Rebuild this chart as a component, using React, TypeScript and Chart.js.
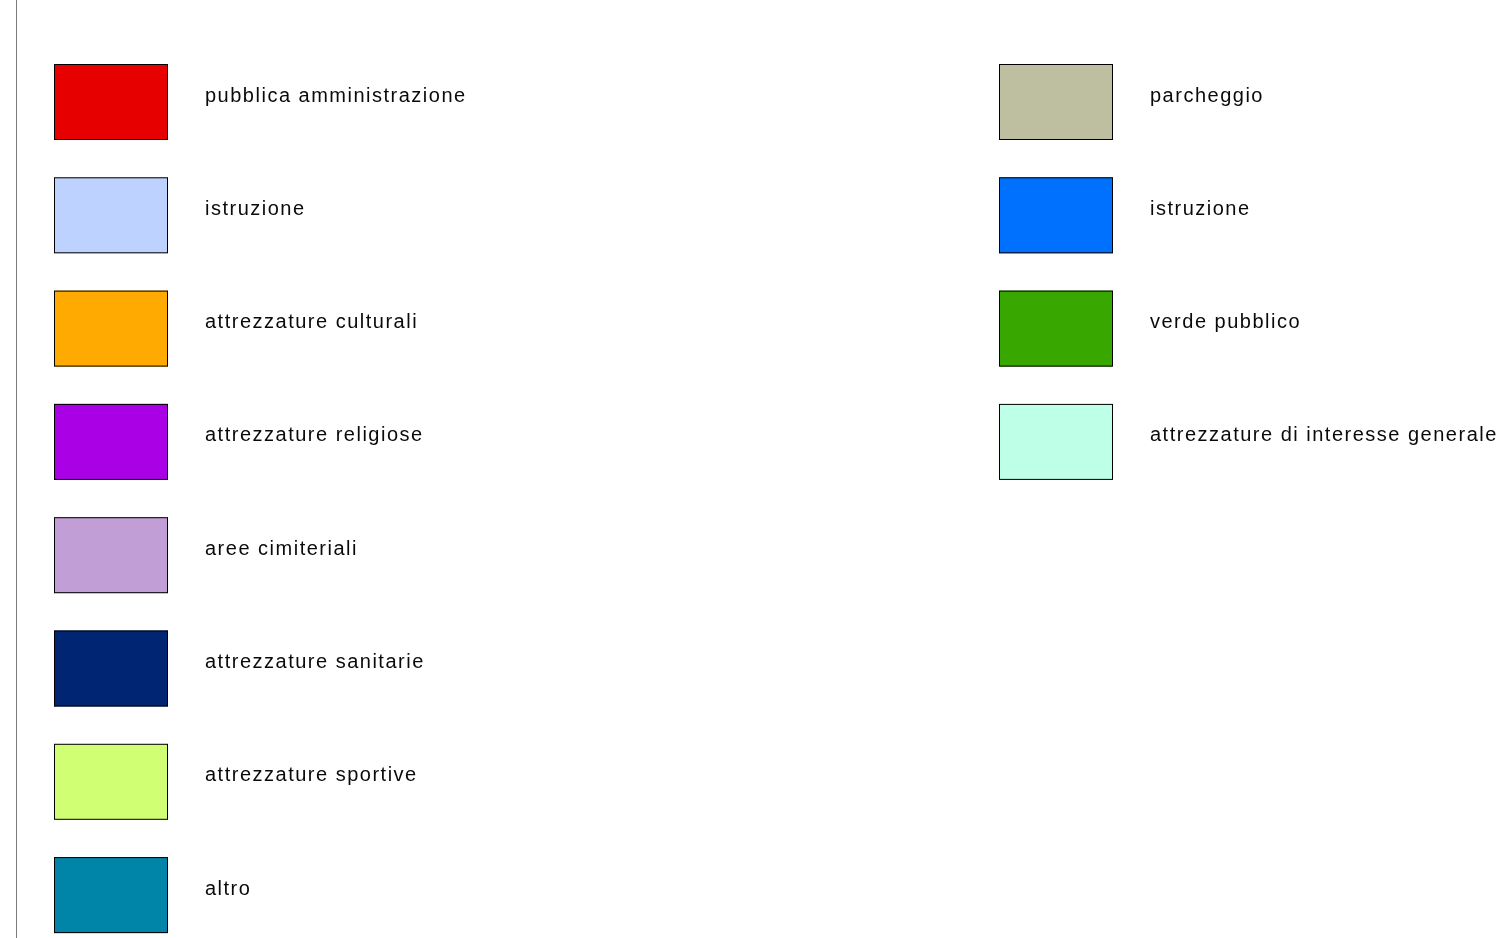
import React, { useEffect, useRef } from "react";
import { Chart, registerables } from "chart.js";

Chart.register(...registerables);

const categories: string[] = [
  "pubblica amministrazione",
  "istruzione",
  "attrezzature culturali",
  "attrezzature religiose",
  "aree cimiteriali",
  "attrezzature sanitarie",
  "attrezzature sportive",
  "altro",
  "parcheggio",
  "istruzione",
  "verde pubblico",
  "attrezzature di interesse generale",
];

const colors: string[] = [
  "#E60000",
  "#BED2FF",
  "#FFAA00",
  "#A900E6",
  "#C29ED7",
  "#002673",
  "#D1FF73",
  "#0084A8",
  "#BEBEA0",
  "#0070FF",
  "#38A800",
  "#BEFFE8",
];

const values: number[] = [0, 0, 0, 0, 0, 0, 0, 0, 0, 0, 0, 0];

const rowsPerColumn = 8;

const legendGridPlugin = {
  id: "legendGrid",
  afterDraw(chart: any, _args: any, opts: any) {
    const ctx = chart.ctx as CanvasRenderingContext2D;
    const items = chart.legend?.legendItems ?? [];
    ctx.save();
    // left frame line
    ctx.strokeStyle = opts.frameColor;
    ctx.lineWidth = 1;
    ctx.beginPath();
    ctx.moveTo(opts.frameX + 0.5, 0);
    ctx.lineTo(opts.frameX + 0.5, chart.height);
    ctx.stroke();

    ctx.font = `${opts.fontSize}px ${opts.fontFamily}`;
    (ctx as any).letterSpacing = `${opts.letterSpacing}px`;
    ctx.textBaseline = "alphabetic";
    ctx.textAlign = "left";
    items.forEach((item: any, i: number) => {
      const col = Math.floor(i / rowsPerColumn);
      const row = i % rowsPerColumn;
      const x = opts.colX[col];
      const y = opts.top + row * opts.rowStep;
      ctx.fillStyle = item.fillStyle;
      ctx.fillRect(x, y, opts.boxW, opts.boxH);
      ctx.strokeStyle = "#000";
      ctx.lineWidth = 1;
      ctx.strokeRect(x + 0.5, y + 0.5, opts.boxW - 1, opts.boxH - 1);
      ctx.fillStyle = opts.textColor;
      ctx.fillText(item.text, x + opts.boxW + opts.textGap, y + opts.baseline);
    });
    ctx.restore();
  },
};

export default function App() {
  const ref = useRef<HTMLCanvasElement | null>(null);
  useEffect(() => {
    if (!ref.current) return;
    const chart = new Chart(ref.current, {
      type: "bar",
      data: {
        labels: [""],
        datasets: categories.map((c, i) => ({
          label: c,
          data: [values[i]],
          backgroundColor: colors[i],
          borderColor: "#000",
          borderWidth: 1,
        })),
      },
      options: {
        animation: false,
        responsive: true,
        maintainAspectRatio: false,
        events: [],
        scales: {
          x: { display: false },
          y: { display: false },
        },
        plugins: {
          legend: { display: false },
          tooltip: { enabled: false },
          legendGrid: {
            frameX: 16,
            frameColor: "#7a7a7a",
            colX: [54, 999],
            top: 64,
            rowStep: 113.3,
            boxW: 114,
            boxH: 76,
            textGap: 37,
            baseline: 37.5,
            fontSize: 20,
            fontFamily: "'Liberation Sans', Arial, sans-serif",
            letterSpacing: 1.5,
            textColor: "#0a0a0a",
          },
        } as any,
      },
      plugins: [legendGridPlugin],
    });
    return () => chart.destroy();
  }, []);
  return (
    <div style={{ position: "fixed", left: 0, top: 0, width: "100vw", height: "100vh", background: "#fff" }}>
      <canvas ref={ref} />
    </div>
  );
}
